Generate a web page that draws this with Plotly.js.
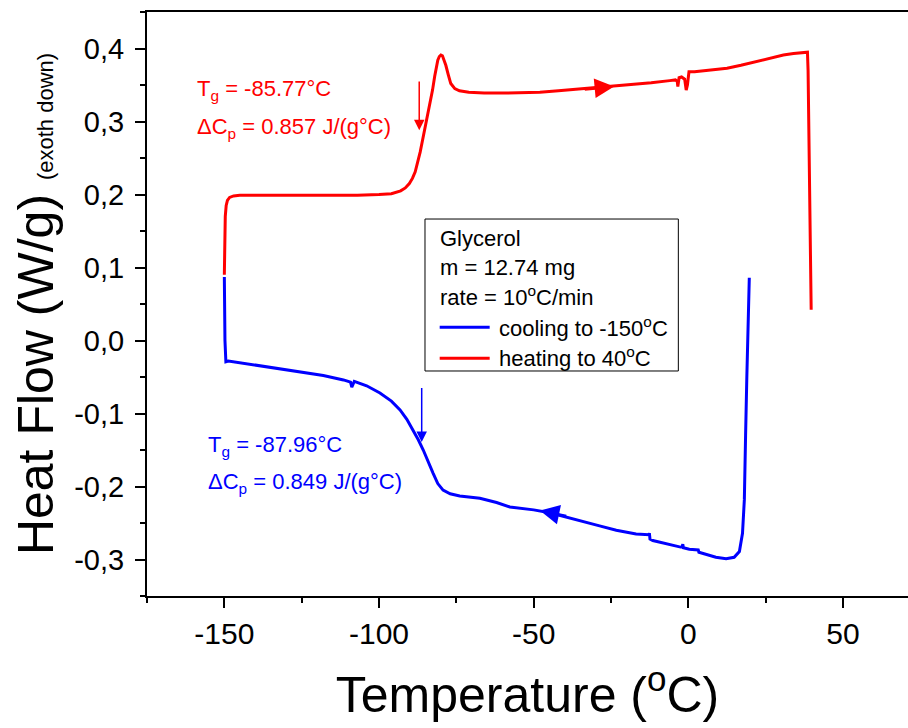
<!DOCTYPE html>
<html>
<head>
<meta charset="utf-8">
<script src="https://cdn.plot.ly/plotly-3.0.1.min.js"></script>
<style>html,body{margin:0;padding:0;background:#fff;}#chart{width:908px;height:728px;}</style>
</head>
<body>
<div id="chart"></div>
<script>
// ---- Data ----
// Cooling run: 20 °C down to -150 °C (blue)
const coolT = [19.7, 19.3, 18.9, 18.5, 18.1, 17.5, 16.5, 14.8, 12.2, 8.9, 4.6, 3.4, 3.2, 0.3, -1.6, -1.8, -2.0, -2.5,
  -11.5, -12.4, -12.6, -12.8, -16.9, -23.3, -28.7, -34.1, -39.5, -44.8, -50.0, -57.7, -62.0, -67.4, -73.9, -77.0,
  -79.3, -81.0, -82.5, -84.0, -85.7, -87.3, -88.9, -91.0, -93.2, -96.0, -99.7, -104.0, -108.0, -108.5, -108.8,
  -109.2, -111.5, -118.0, -125.5, -132.0, -138.4, -144.0, -148.7, -149.5, -149.8, -150.0];
const coolHF = [0.086, 0.030, -0.050, -0.130, -0.218, -0.264, -0.289, -0.297, -0.299, -0.297, -0.292, -0.290, -0.287,
  -0.286, -0.284, -0.279, -0.283, -0.283, -0.274, -0.272, -0.264, -0.266, -0.265, -0.260, -0.254, -0.248, -0.241,
  -0.236, -0.232, -0.228, -0.222, -0.216, -0.213, -0.210, -0.205, -0.196, -0.182, -0.166, -0.150, -0.136, -0.123,
  -0.108, -0.095, -0.083, -0.072, -0.062, -0.056, -0.061, -0.064, -0.057, -0.054, -0.048, -0.043, -0.039, -0.035,
  -0.031, -0.028, -0.029, 0.000, 0.087];

// Heating run: -150 °C up to 40 °C (red)
const heatT = [-150.0, -149.9, -149.7, -149.4, -149.0, -148.3, -147.0, -145.0, -142.0, -135.0, -128.0, -121.0, -114.0,
  -107.0, -100.0, -96.0, -93.0, -91.5, -90.2, -89.2, -88.3, -87.5, -86.7, -85.9, -85.1, -84.3, -83.5, -82.7, -82.0,
  -81.5, -81.0, -80.5, -80.0, -79.5, -79.0, -78.4, -77.6, -76.8, -75.5, -74.0, -71.0, -66.0, -60.0, -54.0, -48.0,
  -42.0, -36.0, -30.0, -24.0, -18.0, -12.0, -6.0, -4.2, -3.6, -3.4, -3.0, -2.2, -1.2, -0.7, -0.3, 0.2, 2.0, 4.0,
  8.0, 12.5, 17.0, 21.0, 25.4, 28.0, 30.7, 34.0, 37.0, 38.5, 38.7, 39.2, 39.7];
const heatHF = [0.090, 0.140, 0.170, 0.185, 0.192, 0.196, 0.198, 0.199, 0.199, 0.199, 0.198, 0.198, 0.198, 0.199,
  0.200, 0.201, 0.205, 0.209, 0.215, 0.222, 0.231, 0.243, 0.258, 0.275, 0.291, 0.307, 0.325, 0.343, 0.362, 0.374,
  0.384, 0.389, 0.391, 0.390, 0.385, 0.377, 0.364, 0.352, 0.345, 0.342, 0.340, 0.339, 0.339, 0.339, 0.340, 0.342,
  0.344, 0.346, 0.348, 0.350, 0.353, 0.356, 0.357, 0.355, 0.348, 0.360, 0.361, 0.358, 0.343, 0.350, 0.368, 0.368,
  0.369, 0.370, 0.373, 0.377, 0.381, 0.385, 0.388, 0.391, 0.393, 0.394, 0.395, 0.370, 0.200, 0.042];

// Direction arrows on the curves [tail, tip]
const heatArrowT = [-34, -24];
const heatArrowHF = [0.344, 0.348];
const coolArrowT = [-39, -48];
const coolArrowHF = [-0.241, -0.233];

// Tg marker arrows [tail, tip]
const tgHeatT = -87.0;
const tgHeatHF = [0.357, 0.288];
const tgCoolT = -86.2;
const tgCoolHF = [-0.063, -0.139];

// Tick labels
const xTickVals = [-150, -100, -50, 0, 50];
const xTickText = ['-150', '-100', '-50', '0', '50'];
const yTickVals = [-0.3, -0.2, -0.1, 0.0, 0.1, 0.2, 0.3, 0.4];
const yTickText = ['-0,3', '-0,2', '-0,1', '0,0', '0,1', '0,2', '0,3', '0,4'];

// Text
const seriesNames = ['cooling to -150<sup>o</sup>C', 'heating to 40<sup>o</sup>C'];
const infoLines = ['Glycerol', 'm = 12.74 mg', 'rate = 10<sup>o</sup>C/min'];
const heatLabels = ['T<sub>g</sub> = -85.77°C', 'ΔC<sub>p</sub> = 0.857 J/(g°C)'];
const coolLabels = ['T<sub>g</sub> = -87.96°C', 'ΔC<sub>p</sub> = 0.849 J/(g°C)'];

// ---- Build chart ----
const FONT = 'Liberation Sans, Arial, Helvetica, sans-serif';
const BLUE = '#0000ff', RED = '#ff0000';

const traces = [
  {x: coolT, y: coolHF, mode: 'lines', name: seriesNames[0], line: {color: BLUE, width: 3}, showlegend: false},
  {x: heatT, y: heatHF, mode: 'lines', name: seriesNames[1], line: {color: RED, width: 3}, showlegend: false}
];

function arrowAnn(tx, ty, color, width, size) {
  return {x: tx[1], y: ty[1], ax: tx[0], ay: ty[0], xref: 'x', yref: 'y', axref: 'x', ayref: 'y',
    text: '', showarrow: true, arrowhead: 2, arrowsize: size, arrowwidth: width, arrowcolor: color,
    standoff: 0, startstandoff: 0};
}

function textAnn(txt, px, py, color, size) {
  return {text: txt, x: px, y: py, xref: 'paper', yref: 'paper', xanchor: 'left', yanchor: 'middle',
    showarrow: false, font: {family: FONT, size: size, color: color}};
}

const annotations = [
  arrowAnn(heatArrowT, heatArrowHF, RED, 3, 1.3),
  arrowAnn(coolArrowT, coolArrowHF, BLUE, 3, 1.3),
  arrowAnn([tgHeatT, tgHeatT], tgHeatHF, RED, 1.5, 1.4),
  arrowAnn([tgCoolT, tgCoolT], tgCoolHF, BLUE, 1.5, 1.4),
  textAnn(heatLabels[0], 0.063, 0.866, RED, 22),
  textAnn(heatLabels[1], 0.063, 0.802, RED, 22),
  textAnn(coolLabels[0], 0.078, 0.257, BLUE, 22),
  textAnn(coolLabels[1], 0.078, 0.193, BLUE, 22),
  textAnn(infoLines[0], 0.383, 0.613, 'black', 22),
  textAnn(infoLines[1], 0.383, 0.563, 'black', 22),
  textAnn(infoLines[2], 0.383, 0.513, 'black', 22),
  textAnn(seriesNames[0], 0.460, 0.461, 'black', 22),
  textAnn(seriesNames[1], 0.460, 0.409, 'black', 22)
];

const shapes = [
  {type: 'rect', xref: 'paper', yref: 'paper', x0: 0.3653, x1: 0.6982, y0: 0.3853, y1: 0.6455,
    line: {color: 'black', width: 1}, fillcolor: 'rgba(0,0,0,0)'},
  {type: 'line', xref: 'paper', yref: 'paper', x0: 0.3846, x1: 0.4503, y0: 0.4601, y1: 0.4601,
    line: {color: BLUE, width: 3}},
  {type: 'line', xref: 'paper', yref: 'paper', x0: 0.3846, x1: 0.4503, y0: 0.4070, y1: 0.4070,
    line: {color: RED, width: 3}}
];

const layout = {
  width: 908, height: 728,
  margin: {l: 147, r: 0, t: 12, b: 132, pad: 0},
  paper_bgcolor: 'white', plot_bgcolor: 'white',
  font: {family: FONT, color: 'black'},
  showlegend: false,
  xaxis: {
    range: [-175, 71], showgrid: false, zeroline: false,
    showline: true, linecolor: 'black', linewidth: 2, mirror: true,
    tickmode: 'array', tickvals: xTickVals, ticktext: xTickText,
    ticks: 'outside', ticklen: 10, tickwidth: 2, tickcolor: 'black',
    tickfont: {family: FONT, size: 30, color: 'black'},
    minor: {dtick: 25, tick0: 0, ticks: 'outside', ticklen: 5, tickwidth: 2, tickcolor: 'black', showgrid: false},
    title: {text: 'Temperature (<sup>o</sup>C)', font: {family: FONT, size: 50, color: 'black'}, standoff: 28},
    automargin: false
  },
  yaxis: {
    range: [-0.35, 0.45], showgrid: false, zeroline: false,
    showline: true, linecolor: 'black', linewidth: 2, mirror: false,
    tickmode: 'array', tickvals: yTickVals, ticktext: yTickText,
    ticks: 'outside', ticklen: 10, tickwidth: 2, tickcolor: 'black', ticklabelstandoff: 5,
    tickfont: {family: FONT, size: 29, color: 'black'},
    minor: {dtick: 0.05, tick0: 0, ticks: 'outside', ticklen: 5, tickwidth: 2, tickcolor: 'black', showgrid: false},
    title: {text: 'Heat Flow (W/g) <span style="font-size:22px">(exoth down)</span>',
      font: {family: FONT, size: 50, color: 'black'}, standoff: 5},
    automargin: false
  },
  annotations: annotations,
  shapes: shapes
};

Plotly.newPlot('chart', traces, layout, {displayModeBar: false, staticPlot: true});
</script>
</body>
</html>
